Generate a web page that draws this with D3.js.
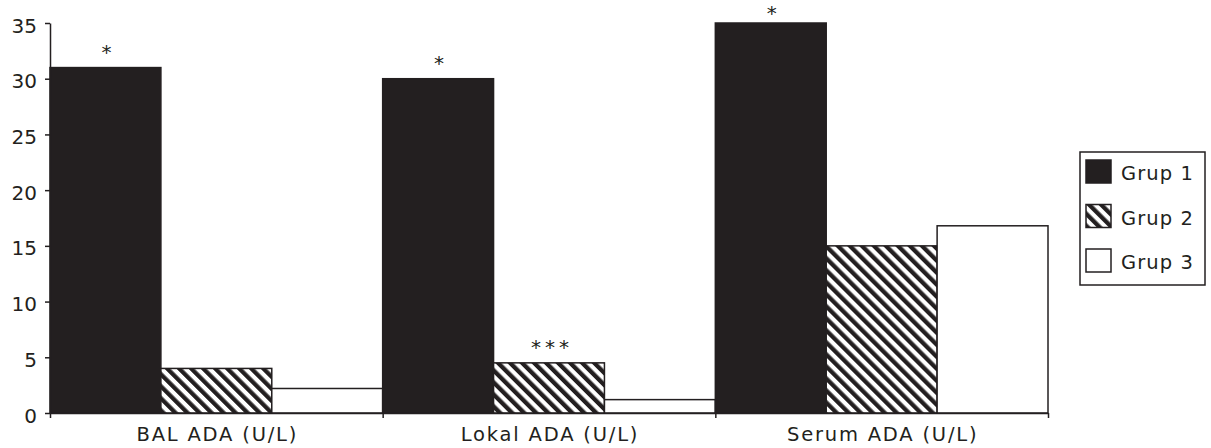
<!DOCTYPE html>
<html><head><meta charset="utf-8">
<script src="https://cdn.jsdelivr.net/npm/d3@7"></script>
<style>body{margin:0;background:#fff}svg{display:block}</style>
</head><body>
<svg id="c" width="1211" height="448"></svg>
<script>
const categories = ["BAL ADA (U/L)", "Lokal ADA (U/L)", "Serum ADA (U/L)"];
const groups = ["Grup 1", "Grup 2", "Grup 3"];
const grup1 = [31, 30, 35];
const grup2 = [4, 4.5, 15];
const grup3 = [2.2, 1.2, 16.8];
const yTicks = [0, 5, 10, 15, 20, 25, 30, 35];
const marks = [["*", 0, 0], ["*", 1, 0], ["***", 1, 1], ["*", 2, 0]]; // [label, category index, group index]

const series = [grup1, grup2, grup3];
const ink = "#231f20";
const svg = d3.select("#c");
const defs = svg.append("defs");
const pat = defs.append("pattern").attr("id", "hatch").attr("patternUnits", "userSpaceOnUse")
  .attr("width", 8.5).attr("height", 8.5).attr("patternTransform", "rotate(-45)");
pat.append("rect").attr("width", 8.5).attr("height", 8.5).attr("fill", "#fff");
pat.append("rect").attr("width", 4.3).attr("height", 8.5).attr("fill", ink);

const fills = [ink, "url(#hatch)", "#fff"];

const x0 = d3.scaleBand().domain(categories).range([50, 1048]).padding(0);
const x1 = d3.scaleBand().domain(groups).range([0, x0.bandwidth()]).padding(0);
const y = d3.scaleLinear().domain([0, 35]).range([413, 23]);

const data = [];
categories.forEach((c, i) => groups.forEach((g, j) => data.push({c, g, i, j, v: series[j][i]})));

svg.append("g").selectAll("rect").data(data).join("rect")
  .attr("x", d => x0(d.c) + x1(d.g))
  .attr("y", d => y(d.v))
  .attr("width", x1.bandwidth())
  .attr("height", d => y(0) - y(d.v))
  .attr("fill", d => fills[d.j])
  .attr("stroke", ink).attr("stroke-width", 1.5);

// y axis
const yAxis = svg.append("g").attr("transform", "translate(50,0)")
  .call(d3.axisLeft(y).tickValues(yTicks).tickSize(5).tickPadding(8).tickSizeOuter(0));
yAxis.select(".domain").attr("stroke", ink).attr("stroke-width", 1.5);
yAxis.selectAll(".tick line").attr("stroke", ink).attr("stroke-width", 1.5);
yAxis.selectAll(".tick text").attr("fill", ink).attr("font-family", "DejaVu Sans").attr("font-size", 20).attr("dy", "0.45em");

// x axis
const xb = d3.scaleLinear().domain([0, 3]).range([50, 1048]);
const xAxis = svg.append("g").attr("transform", "translate(0,413)")
  .call(d3.axisBottom(xb).tickValues([0, 1, 2, 3]).tickSize(5).tickFormat("").tickSizeOuter(0));
xAxis.select(".domain").attr("stroke", ink).attr("stroke-width", 1.5);
xAxis.selectAll(".tick line").attr("stroke", ink).attr("stroke-width", 1.5);

svg.append("g").selectAll("text").data(categories).join("text")
  .attr("x", d => x0(d) + x0.bandwidth() / 2 + 1).attr("y", 441)
  .attr("text-anchor", "middle").attr("fill", ink)
  .attr("font-family", "DejaVu Sans").attr("font-size", 19.5).attr("letter-spacing", 1.8).text(d => d);

// significance marks
svg.append("g").selectAll("text").data(marks).join("text")
  .attr("x", d => x0(categories[d[1]]) + x1(groups[d[2]]) + x1.bandwidth() / 2 + (d[0].length > 1 ? 3 : 1))
  .attr("y", d => Math.max(20, y(series[d[2]][d[1]]) - 9))
  .attr("text-anchor", "middle").attr("fill", ink)
  .attr("letter-spacing", d => d[0].length > 1 ? 4 : 0)
  .attr("font-family", "DejaVu Sans").attr("font-size", 20).text(d => d[0]);

// legend
const lg = svg.append("g").attr("transform", "translate(1080,152)");
lg.append("rect").attr("width", 125).attr("height", 133).attr("fill", "#fff").attr("stroke", ink).attr("stroke-width", 1.5);
const li = lg.selectAll("g").data(groups).join("g").attr("transform", (d, i) => `translate(6,${8 + i * 44.5})`);
li.append("rect").attr("width", 25).attr("height", 23).attr("fill", (d, i) => fills[i]).attr("stroke", ink).attr("stroke-width", 1.5);
li.append("text").attr("x", 35).attr("y", 20).attr("fill", ink)
  .attr("font-family", "DejaVu Sans").attr("font-size", 19.5).attr("letter-spacing", 1.1).text(d => d);
</script>
</body></html>
